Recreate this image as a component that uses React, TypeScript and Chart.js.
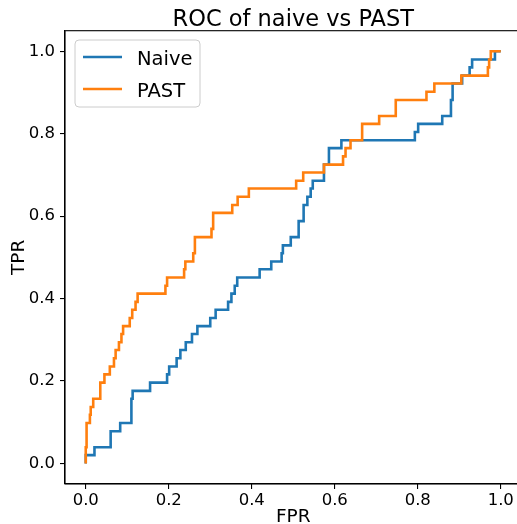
import React, { useEffect, useRef } from "react";
import { Chart, registerables } from "chart.js";
Chart.register(...registerables);

const chartTitle = "ROC of naive vs PAST";
const xLabel = "FPR";
const yLabel = "TPR";
const seriesNames = ["Naive", "PAST"];
const seriesColors = ["#1f77b4", "#ff7f0e"];
const xTicks = [0, 0.2, 0.4, 0.6, 0.8, 1.0];
const yTicks = [0, 0.2, 0.4, 0.6, 0.8, 1.0];

// step points: x where vertical step happens, tpr after step
const naiveFpr = [0, 0, 0.021, 0.060, 0.083, 0.110, 0.113, 0.155, 0.196, 0.201, 0.219, 0.228, 0.241, 0.256, 0.269, 0.300, 0.313, 0.343, 0.351, 0.359, 0.365, 0.419, 0.447, 0.472, 0.475, 0.494, 0.513, 0.525, 0.534, 0.542, 0.547, 0.574, 0.586, 0.616, 0.793, 0.801, 0.859, 0.880, 0.884, 0.907, 0.925, 0.931, 0.986, 1.0];
const naiveTpr = [0, 0.020, 0.039, 0.078, 0.098, 0.157, 0.176, 0.196, 0.216, 0.235, 0.255, 0.275, 0.294, 0.314, 0.333, 0.353, 0.373, 0.392, 0.412, 0.431, 0.451, 0.471, 0.490, 0.510, 0.529, 0.549, 0.588, 0.627, 0.647, 0.667, 0.686, 0.725, 0.765, 0.784, 0.804, 0.824, 0.843, 0.882, 0.922, 0.941, 0.961, 0.980, 1.0, 1.0];

const pastFpr = [0, 0, 0.002, 0.010, 0.012, 0.018, 0.035, 0.045, 0.058, 0.068, 0.072, 0.080, 0.086, 0.090, 0.106, 0.112, 0.120, 0.125, 0.192, 0.196, 0.237, 0.240, 0.259, 0.263, 0.303, 0.307, 0.353, 0.366, 0.393, 0.507, 0.524, 0.574, 0.620, 0.626, 0.638, 0.666, 0.707, 0.747, 0.821, 0.840, 0.905, 0.969, 0.972, 0.976, 1.0];
const pastTpr = [0, 0.039, 0.098, 0.118, 0.137, 0.157, 0.196, 0.216, 0.235, 0.255, 0.275, 0.294, 0.314, 0.333, 0.353, 0.373, 0.392, 0.412, 0.431, 0.451, 0.471, 0.490, 0.510, 0.549, 0.569, 0.608, 0.627, 0.647, 0.667, 0.686, 0.706, 0.725, 0.745, 0.765, 0.784, 0.824, 0.843, 0.882, 0.902, 0.922, 0.941, 0.961, 0.980, 1.0, 1.0];

const W = 530;
const H = 524;
const FONT = "'DejaVu Sans', sans-serif";

const decor = {
  id: "decor",
  afterDraw(chart: any) {
    const { ctx, chartArea: a } = chart;
    ctx.save();
    ctx.strokeStyle = "#000";
    ctx.lineWidth = 1.1;
    ctx.strokeRect(a.left, a.top, a.right - a.left, a.bottom - a.top);
    const cx = (a.left + a.right) / 2;
    ctx.fillStyle = "#000";
    ctx.textAlign = "center";
    ctx.textBaseline = "alphabetic";
    ctx.font = `22.5px ${FONT}`;
    ctx.fillText(chartTitle, cx, 26);
    ctx.font = `18.5px ${FONT}`;
    ctx.fillText(xLabel, cx, 522);
    ctx.save();
    ctx.translate(24, (a.top + a.bottom) / 2);
    ctx.rotate(-Math.PI / 2);
    ctx.fillText(yLabel, 0, 0);
    ctx.restore();

    // legend
    const lx = 75, ly = 40, lw = 125, lh = 67;
    ctx.beginPath();
    ctx.roundRect(lx, ly, lw, lh, 4);
    ctx.fillStyle = "rgba(255,255,255,0.8)";
    ctx.fill();
    ctx.strokeStyle = "#cccccc";
    ctx.lineWidth = 1;
    ctx.stroke();
    ctx.font = `19.5px ${FONT}`;
    ctx.textAlign = "left";
    seriesNames.forEach((name, i) => {
      const y = 57 + i * 32;
      ctx.strokeStyle = seriesColors[i];
      ctx.lineWidth = 2.6;
      ctx.beginPath();
      ctx.moveTo(83, y);
      ctx.lineTo(122, y);
      ctx.stroke();
      ctx.fillStyle = "#000";
      ctx.fillText(name, 137, y + 8);
    });
    ctx.restore();
  },
};

export default function App() {
  const ref = useRef<HTMLCanvasElement>(null);
  useEffect(() => {
    if (!ref.current) return;
    const chart = new Chart(ref.current, {
      type: "line",
      data: {
        datasets: [
          {
            label: seriesNames[0],
            data: naiveFpr.map((x, i) => ({ x, y: naiveTpr[i] })),
            borderColor: seriesColors[0],
            backgroundColor: seriesColors[0],
            borderWidth: 2.6,
            pointRadius: 0,
            stepped: true,
            fill: false,
            order: 1,
          },
          {
            label: seriesNames[1],
            data: pastFpr.map((x, i) => ({ x, y: pastTpr[i] })),
            borderColor: seriesColors[1],
            backgroundColor: seriesColors[1],
            borderWidth: 2.6,
            pointRadius: 0,
            stepped: true,
            fill: false,
            order: 0,
          },
        ],
      },
      options: {
        animation: false,
        responsive: false,
        events: [],
        layout: { padding: { left: 0, top: 30.7, right: W - 521.5, bottom: 0 } },
        plugins: { legend: { display: false }, tooltip: { enabled: false }, title: { display: false } },
        scales: {
          x: {
            type: "linear",
            min: -0.05,
            max: 1.05,
            afterBuildTicks: (s: any) => {
              s.ticks = xTicks.map((v) => ({ value: v }));
            },
            afterFit: (s: any) => {
              s.height = H - 484;
            },
            ticks: {
              autoSkip: false,
              maxRotation: 0,
              padding: 2,
              color: "#000",
              font: { family: FONT, size: 16.5 },
              callback: (v: any) => Number(v).toFixed(1),
            },
            grid: { drawOnChartArea: false, drawTicks: true, tickLength: 5, color: "#000", lineWidth: 1.1 },
            border: { color: "#000", width: 1.1 },
          },
          y: {
            type: "linear",
            min: -0.05,
            max: 1.05,
            afterBuildTicks: (s: any) => {
              s.ticks = yTicks.map((v) => ({ value: v }));
            },
            afterFit: (s: any) => {
              s.width = 65;
            },
            ticks: {
              autoSkip: false,
              padding: 5,
              color: "#000",
              font: { family: FONT, size: 16.5 },
              callback: (v: any) => Number(v).toFixed(1),
            },
            grid: { drawOnChartArea: false, drawTicks: true, tickLength: 5, color: "#000", lineWidth: 1.1 },
            border: { color: "#000", width: 1.1 },
          },
        },
      },
      plugins: [decor],
    });
    return () => chart.destroy();
  }, []);
  return (
    <div style={{ position: "fixed", left: 0, top: 0, width: 517, height: 524, overflow: "hidden", background: "#fff" }}>
      <canvas ref={ref} width={W} height={H} style={{ display: "block", width: W, height: H }} />
    </div>
  );
}
